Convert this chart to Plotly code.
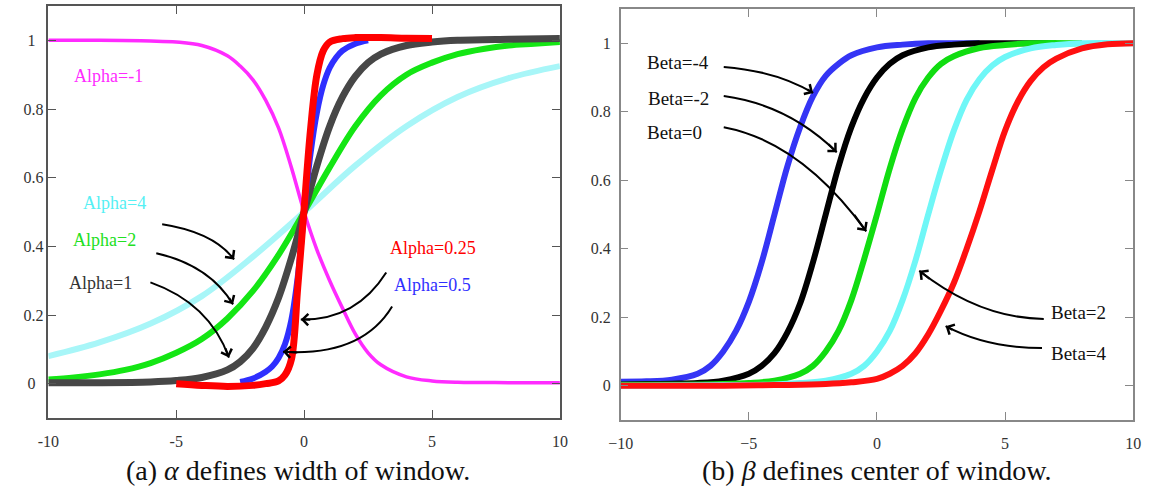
import plotly.graph_objects as go

# ---------------- panel (a): alpha curves ----------------
a_mag_x = [-10, -8, -6, -5, -4, -3, -2.5, -2, -1.5, -1, -0.5, 0, 0.5, 1, 1.5, 2, 2.5, 3, 4, 5, 6, 8, 10]
a_mag_y = [1.0, 1.0, 0.998, 0.995, 0.985, 0.955, 0.925, 0.885, 0.825, 0.745, 0.63, 0.5, 0.39, 0.3, 0.22, 0.145, 0.09, 0.055, 0.02, 0.008, 0.004, 0.003, 0.003]

a_cyan_x = [-10, -8, -6, -4, -2, 0, 2, 4, 6, 8, 10]
a_cyan_y = [0.08, 0.12, 0.175, 0.255, 0.37, 0.5, 0.635, 0.75, 0.835, 0.89, 0.925]

a_green_x = [-10, -9, -8, -7, -6, -5, -4, -3, -2, -1, 0, 1, 2, 3, 4, 5, 6, 7, 8, 9, 10]
a_green_y = [0.012, 0.018, 0.027, 0.04, 0.06, 0.09, 0.13, 0.19, 0.27, 0.375, 0.5, 0.63, 0.75, 0.84, 0.9, 0.935, 0.96, 0.975, 0.985, 0.99, 0.995]

a_gray_x = [-10, -8, -6, -5, -4, -3, -2.5, -2, -1.5, -1, -0.5, 0, 0.5, 1, 1.5, 2, 2.5, 3, 4, 5, 6, 8, 10]
a_gray_y = [0.003, 0.003, 0.005, 0.009, 0.018, 0.04, 0.064, 0.103, 0.165, 0.25, 0.365, 0.5, 0.635, 0.75, 0.835, 0.895, 0.935, 0.96, 0.985, 0.995, 1.0, 1.003, 1.005]

a_blue_x = [-2.5, -2, -1.5, -1.25, -1, -0.75, -0.5, -0.25, 0, 0.25, 0.5, 0.75, 1, 1.25, 1.5, 2, 2.5]
a_blue_y = [0.005, 0.015, 0.035, 0.05, 0.075, 0.115, 0.185, 0.31, 0.5, 0.67, 0.79, 0.87, 0.92, 0.95, 0.97, 0.99, 1.0]

a_red_x = [-5, -4, -3, -2, -1.5, -1, -0.75, -0.5, -0.25, 0, 0.25, 0.5, 0.75, 1, 1.5, 2, 3, 4, 5]
a_red_y = [0.0, -0.005, -0.008, -0.005, 0.0, 0.008, 0.025, 0.07, 0.28, 0.51, 0.74, 0.9, 0.97, 0.995, 1.005, 1.008, 1.008, 1.006, 1.005]

a_labels = ["Alpha=-1", "Alpha=4", "Alpha=2", "Alpha=1", "Alpha=0.25", "Alpha=0.5"]

# ---------------- panel (b): beta curves ----------------
b_blue_x = [-10, -9, -8, -7, -6.5, -6, -5.5, -5, -4.5, -4, -3.5, -3, -2.5, -2, -1.5, -1, 0, 1, 2, 3, 4]
b_blue_y = [0.012, 0.013, 0.018, 0.035, 0.058, 0.1, 0.16, 0.245, 0.36, 0.5, 0.64, 0.755, 0.845, 0.905, 0.94, 0.965, 0.988, 0.996, 1.0, 1.0, 1.0]

b_black_x = [-10, -9, -8, -7, -6, -5, -4.5, -4, -3.5, -3, -2.5, -2, -1.5, -1, -0.5, 0, 0.5, 1, 2, 3, 4, 5, 6, 7]
b_black_y = [0.004, 0.005, 0.006, 0.008, 0.015, 0.035, 0.058, 0.095, 0.155, 0.24, 0.36, 0.5, 0.64, 0.755, 0.84, 0.9, 0.94, 0.965, 0.988, 0.996, 1.0, 1.0, 1.0, 1.0]

b_green_x = [-10, -8, -6, -5, -4, -3, -2.5, -2, -1.5, -1, -0.5, 0, 0.5, 1, 1.5, 2, 2.5, 3, 4, 5, 6, 8]
b_green_y = [0.003, 0.003, 0.005, 0.008, 0.015, 0.035, 0.058, 0.1, 0.16, 0.25, 0.37, 0.5, 0.635, 0.75, 0.84, 0.9, 0.94, 0.962, 0.986, 0.995, 1.0, 1.0]

b_cyan_x = [-10, -6, -4, -3, -2, -1, -0.5, 0, 0.5, 1, 1.5, 2, 2.5, 3, 3.5, 4, 4.5, 5, 6, 7, 8, 10]
b_cyan_y = [0.0, 0.002, 0.004, 0.008, 0.015, 0.035, 0.058, 0.1, 0.16, 0.25, 0.365, 0.5, 0.63, 0.745, 0.835, 0.895, 0.935, 0.96, 0.985, 0.995, 1.0, 1.0]

b_red_x = [-10, -6, -4, -2, -1, 0, 0.5, 1, 1.5, 2, 2.5, 3, 3.5, 4, 4.5, 5, 5.5, 6, 6.5, 7, 8, 9, 10]
b_red_y = [0.0, 0.0, 0.002, 0.005, 0.01, 0.02, 0.035, 0.058, 0.095, 0.15, 0.22, 0.3, 0.4, 0.51, 0.63, 0.745, 0.83, 0.89, 0.93, 0.955, 0.985, 0.997, 1.0]

b_labels = ["Beta=-4", "Beta=-2", "Beta=0", "Beta=2", "Beta=4"]

# ---------------- ticks ----------------
a_xtick_vals = [-10, -5, 0, 5, 10]
a_xtick_text = ["-10", "-5", "0", "5", "10"]
a_ytick_vals = [0, 0.2, 0.4, 0.6, 0.8, 1]
a_ytick_text = ["0\u2007", "0.2", "0.4", "0.6", "0.8", "1\u2007"]
b_xtick_vals = [-10, -5, 0, 5, 10]
b_xtick_text = ["\u221210", "\u22125", "0", "5", "10"]
b_ytick_vals = [0, 0.2, 0.4, 0.6, 0.8, 1]
b_ytick_text = ["0", "0.2", "0.4", "0.6", "0.8", "1"]

captions = ["(a) <i>\u03b1</i> defines width of window.", "(b) <i>\u03b2</i> defines center of window."]

# ---------------- styling / geometry ----------------
SERIF = "Liberation Serif, Times New Roman, serif"

a_styles = [
    (a_mag_x, a_mag_y, "#ff2bff", 3.5),
    (a_cyan_x, a_cyan_y, "#a8f6f8", 6),
    (a_green_x, a_green_y, "#14e614", 6),
    (a_gray_x, a_gray_y, "#474747", 7),
    (a_blue_x, a_blue_y, "#2f2fff", 6),
    (a_red_x, a_red_y, "#ff0000", 7),
]
b_styles = [
    (b_blue_x, b_blue_y, "#3535f5", 6),
    (b_black_x, b_black_y, "#000000", 6),
    (b_green_x, b_green_y, "#11dd11", 6),
    (b_cyan_x, b_cyan_y, "#6ff7f7", 6),
    (b_red_x, b_red_y, "#ff1010", 6),
]

# label anchor points (data coords) and colours
a_label_pos = [(-7.66, 0.895), (-7.43, 0.527), (-7.8, 0.419), (-7.97, 0.293), (5.05, 0.396), (5.0, 0.288)]
a_label_col = ["#ff2bff", "#55f0f4", "#22e022", "#333333", "#ff0000", "#3030ff"]
b_label_pos = [(-7.78, 0.945), (-7.74, 0.84), (-7.9, 0.738), (7.85, 0.215), (7.89, 0.093)]

# curved arrows: (start, control, end) in data coords
a_arrows = [
    ((-5.55, 0.464), (-3.55, 0.441), (-2.74, 0.362)),
    ((-5.78, 0.38), (-3.70, 0.345), (-2.78, 0.231)),
    ((-6.01, 0.295), (-3.70, 0.234), (-2.94, 0.076)),
    ((3.21, 0.324), (2.02, 0.184), (-0.13, 0.187)),
    ((3.44, 0.225), (2.25, 0.079), (-0.825, 0.093)),
]
b_arrows = [
    ((-5.98, 0.931), (-3.91, 0.919), (-2.49, 0.855)),
    ((-5.98, 0.846), (-3.45, 0.82), (-1.57, 0.682)),
    ((-5.98, 0.755), (-2.95, 0.712), (-0.42, 0.451)),
    ((6.51, 0.195), (3.98, 0.198), (1.65, 0.336)),
    ((6.44, 0.110), (4.29, 0.110), (2.68, 0.174)),
]

fig = go.Figure()

for xs, ys, col, w in a_styles:
    fig.add_trace(go.Scatter(x=xs, y=ys, mode="lines", xaxis="x", yaxis="y",
                             line=dict(color=col, width=w, shape="spline", smoothing=1.0),
                             showlegend=False, hoverinfo="skip"))
for xs, ys, col, w in b_styles:
    fig.add_trace(go.Scatter(x=xs, y=ys, mode="lines", xaxis="x2", yaxis="y2",
                             line=dict(color=col, width=w, shape="spline", smoothing=1.0),
                             showlegend=False, hoverinfo="skip"))

annotations = []
shapes = []

for (px, py), txt, col in zip(a_label_pos, a_labels, a_label_col):
    annotations.append(dict(x=px, y=py, xref="x", yref="y", text=txt, showarrow=False,
                            font=dict(family=SERIF, size=18, color=col)))
for (px, py), txt in zip(b_label_pos, b_labels):
    annotations.append(dict(x=px, y=py, xref="x2", yref="y2", text=txt, showarrow=False,
                            font=dict(family=SERIF, size=19, color="#111111")))


def add_arrows(arrows, xr, yr):
    for (s, c, e) in arrows:
        shapes.append(dict(type="path", xref=xr, yref=yr,
                           path=f"M {s[0]},{s[1]} Q {c[0]},{c[1]} {e[0]},{e[1]}",
                           line=dict(color="#000000", width=2)))
        k = 0.2
        annotations.append(dict(x=e[0], y=e[1], xref=xr, yref=yr,
                                ax=e[0] + k * (c[0] - e[0]), ay=e[1] + k * (c[1] - e[1]),
                                axref=xr, ayref=yr, text="", showarrow=True,
                                arrowhead=4, arrowsize=1.1, arrowwidth=2, arrowcolor="#000000"))


add_arrows(a_arrows, "x", "y")
add_arrows(b_arrows, "x2", "y2")

for txt, cx in zip(captions, [0.2513, 0.7626]):
    annotations.append(dict(x=cx, y=0.043, xref="paper", yref="paper", text=txt, showarrow=False,
                            xanchor="center", yanchor="middle",
                            font=dict(family=SERIF, size=28, color="#111111")))

tickfont = dict(family=SERIF, size=16, color="#333333")


def axis(domain, rng, vals, text, linecol, standoff, anchor):
    return dict(domain=domain, range=rng, tickvals=vals, ticktext=text, ticks="inside",
                ticklen=8, tickwidth=1, tickcolor=linecol, showline=True, linecolor=linecol,
                linewidth=1.5, mirror="ticks", showgrid=False, zeroline=False,
                tickfont=tickfont, ticklabelstandoff=standoff, anchor=anchor, fixedrange=True)


fig.update_layout(
    width=1154, height=492,
    margin=dict(l=0, r=0, t=0, b=0),
    paper_bgcolor="white", plot_bgcolor="white",
    xaxis=axis([0.0312, 0.4827], [-10, 10], a_xtick_vals, a_xtick_text, "#555555", 8, "y"),
    yaxis=axis([0.1504, 0.9878], [-0.1, 1.1], a_ytick_vals, a_ytick_text, "#555555", 0, "x"),
    xaxis2=axis([0.5364, 0.9887], [-10, 10], b_xtick_vals, b_xtick_text, "#888888", 8, "y2"),
    yaxis2=axis([0.1463, 0.9817], [-0.1, 1.1], b_ytick_vals, b_ytick_text, "#888888", 5, "x2"),
    annotations=annotations,
    shapes=shapes,
)

fig.write_html("out.html")
